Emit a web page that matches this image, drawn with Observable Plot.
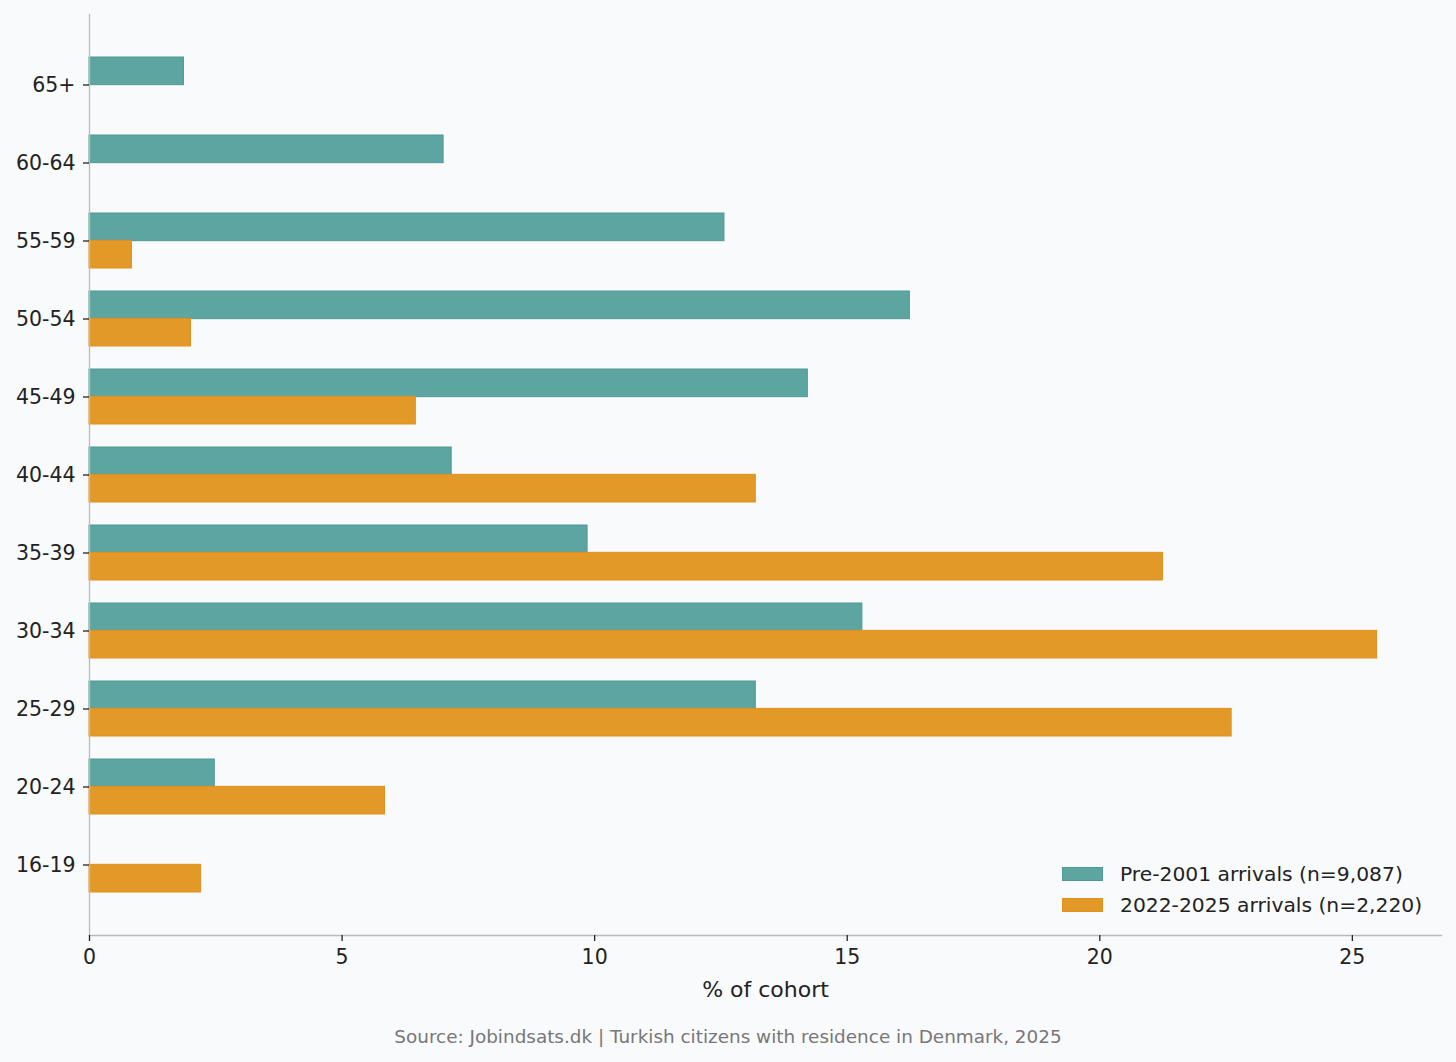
<!DOCTYPE html>
<html>
<head>
<meta charset="utf-8">
<script src="https://cdn.jsdelivr.net/npm/d3@7"></script>
<script src="https://cdn.jsdelivr.net/npm/@observablehq/plot@0.6"></script>
<style>
  html, body { margin: 0; padding: 0; background: #f9fafc; }
  body { width: 1456px; height: 1062px; position: relative; overflow: hidden; font-family: "DejaVu Sans", sans-serif; }
  #chart { position: absolute; left: 0; top: 0; }
  #legend { position: absolute; left: 1062px; top: 858px; font-size: 20.3px; color: #222; }
  .row { display: flex; align-items: center; height: 31px; }
  .sw { width: 41px; height: 14px; margin-right: 17px; box-sizing: border-box; }
  #caption { position: absolute; left: 0; width: 1456px; top: 1026px; text-align: center; font-size: 18.4px; color: #777; }
</style>
</head>
<body>
<div id="chart"></div>
<div id="legend"></div>
<div id="caption"></div>
<script>
const ages = ["65+", "60-64", "55-59", "50-54", "45-49", "40-44", "35-39", "30-34", "25-29", "20-24", "16-19"];
const pre2001 = [1.87, 7.01, 12.57, 16.24, 14.22, 7.17, 9.86, 15.30, 13.19, 2.48, 0];
const recent = [0, 0, 0.84, 2.01, 6.46, 13.19, 21.25, 25.49, 22.61, 5.85, 2.21];
const seriesNames = ["Pre-2001 arrivals (n=9,087)", "2022-2025 arrivals (n=2,220)"];
const colors = ["#5ca5a1", "#e29928"];
const strokes = ["#4f9995", "#df9020"];
const xTicks = [0, 5, 10, 15, 20, 25];
const caption = "Source: Jobindsats.dk | Turkish citizens with residence in Denmark, 2025";

const width = 1456, height = 1010;
const marginTop = 14, marginBottom = 75, marginLeft = 89, marginRight = 15;
const paddingInner = 0.3, paddingOuter = 0.545;
const plotH = height - marginTop - marginBottom;
const step = plotH / (ages.length - paddingInner + 2 * paddingOuter);
const half = step * (1 - paddingInner) / 2;

const dataPre = ages.map((a, i) => ({age: a, value: pre2001[i]}));
const dataRec = ages.map((a, i) => ({age: a, value: recent[i]}));
const xMax = d3.max([...pre2001, ...recent]) * 1.05;

const chart = Plot.plot({
  width, height, marginTop, marginBottom, marginLeft, marginRight,
  style: {background: "transparent", fontFamily: "DejaVu Sans", fontSize: "20.5px", color: "#222"},
  x: {domain: [0, xMax], ticks: xTicks},
  y: {type: "band", domain: ages, paddingInner, paddingOuter},
  marks: [
    Plot.barX(dataPre.filter(d => d.value > 0), {x: "value", y: "age", fill: colors[0], stroke: strokes[0], strokeWidth: 1, insetBottom: half}),
    Plot.barX(dataRec.filter(d => d.value > 0), {x: "value", y: "age", fill: colors[1], stroke: strokes[1], strokeWidth: 1, insetTop: half}),
    Plot.frame({anchor: "left", stroke: "#bbbbbb", strokeWidth: 1.3}),
    Plot.frame({anchor: "bottom", stroke: "#bbbbbb", strokeWidth: 1.3}),
    Plot.axisX({ticks: xTicks, tickSize: 6, tickPadding: 8, stroke: "#222", strokeWidth: 1.3, fill: "#222", fontSize: 20.5, label: null}),
    Plot.axisX({ticks: [], tickSize: 0, label: "% of cohort", labelAnchor: "center", labelArrow: "none", labelOffset: 61, fontSize: 22, fill: "#222"}),
    Plot.axisY({tickSize: 6, tickPadding: 8, stroke: "#222", strokeWidth: 1.3, fill: "#222", fontSize: 20.5, label: null})
  ]
});
document.getElementById("chart").appendChild(chart);

const legend = document.getElementById("legend");
seriesNames.forEach((name, i) => {
  const row = document.createElement("div");
  row.className = "row";
  const sw = document.createElement("div");
  sw.className = "sw";
  sw.style.background = colors[i];
  sw.style.border = "1px solid " + strokes[i];
  const t = document.createElement("span");
  t.textContent = name;
  row.appendChild(sw); row.appendChild(t);
  legend.appendChild(row);
});
document.getElementById("caption").textContent = caption;
</script>
</body>
</html>
